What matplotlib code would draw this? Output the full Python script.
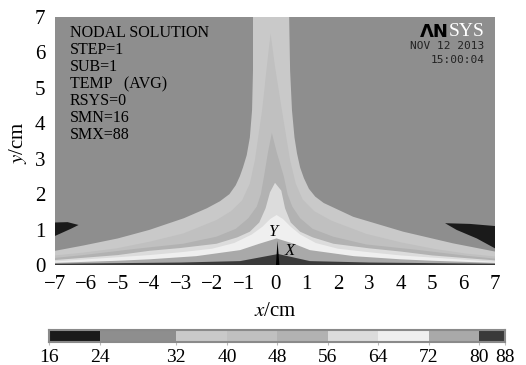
import numpy as np
import matplotlib
matplotlib.use('Agg')
import matplotlib.pyplot as plt

plt.rcParams['font.family'] = ['Liberation Serif', 'DejaVu Serif']
plt.rcParams['mathtext.fontset'] = 'stix'

# 等温线 (isotherms), path from left edge over the plume to right edge
iso32_x = [-7.0, -6.1, -5.0, -4.0, -2.9, -2.17, -1.75, -1.45, -1.25, -1.12, -1.02, -0.90, -0.80, -0.73,
           -0.70, -0.70,
           0.45, 0.48, 0.54, 0.62, 0.70, 0.80, 0.92, 1.08, 1.28, 1.55, 2.49, 4.08, 5.67, 7.0]
iso32_y = [0.40, 0.55, 0.75, 0.99, 1.32, 1.60, 1.80, 2.0, 2.25, 2.5, 2.75, 3.1, 3.6, 4.37,
           5.5, 7.0,
           7.0, 5.5, 4.37, 3.6, 3.15, 2.75, 2.45, 2.15, 1.93, 1.75, 1.36, 0.94, 0.61, 0.38]

iso40_x = [-7.0, -6.1, -5.04, -3.98, -2.92, -1.86, -1.40, -1.05, -0.80, -0.64, -0.41, -0.26, -0.14,
           0.0, 0.22, 0.48, 0.66, 0.88, 1.25, 1.8, 2.9, 4.0, 5.1, 6.1, 7.0]
iso40_y = [0.27, 0.35, 0.47, 0.66, 0.89, 1.27, 1.52, 1.82, 2.3, 2.96, 4.37, 5.6, 6.54,
           5.6, 4.37, 2.96, 2.3, 1.85, 1.52, 1.25, 0.88, 0.64, 0.45, 0.32, 0.24]

iso48_x = [-7.0, -6.1, -4.5, -2.92, -1.86, -1.25, -0.85, -0.58, -0.45, -0.35, -0.22, -0.10,
           0.05, 0.28, 0.40, 0.55, 0.80, 1.2, 1.85, 2.9, 4.5, 6.1, 7.0]
iso48_y = [0.20, 0.28, 0.45, 0.60, 0.80, 1.02, 1.32, 1.65, 2.0, 2.5, 3.2, 3.73,
           3.2, 2.5, 2.0, 1.65, 1.32, 1.02, 0.80, 0.58, 0.43, 0.26, 0.18]

iso56_x = [-7.0, -5.0, -4.0, -3.0, -1.86, -1.2, -0.8, -0.5, -0.30, -0.16, 0.0,
           0.2, 0.32, 0.5, 0.8, 1.2, 1.86, 3.0, 4.0, 5.0, 7.0]
iso56_y = [0.14, 0.28, 0.40, 0.48, 0.60, 0.78, 0.94, 1.2, 1.6, 2.05, 2.32,
           2.1, 1.6, 1.2, 0.94, 0.78, 0.60, 0.47, 0.38, 0.27, 0.13]

iso64_x = [-7.0, -5.5, -4.0, -3.0, -2.0, -1.3, -0.74, -0.4, -0.15, 0.05,
           0.25, 0.5, 0.8, 1.3, 2.0, 3.0, 4.0, 5.5, 7.0]
iso64_y = [0.10, 0.19, 0.28, 0.36, 0.46, 0.62, 0.86, 1.08, 1.3, 1.41,
           1.3, 1.08, 0.86, 0.62, 0.46, 0.36, 0.27, 0.18, 0.09]

iso72_x = [-7.0, -5.0, -4.0, -2.5, -1.11, -0.5, 0.05, 0.6, 1.11, 2.5, 4.0, 5.0, 7.0]
iso72_y = [0.06, 0.12, 0.16, 0.25, 0.42, 0.60, 0.75, 0.60, 0.42, 0.25, 0.16, 0.12, 0.06]

iso80_x = [-7.0, -3.0, -1.11, 0.1, 1.11, 3.0, 7.0]
iso80_y = [0.035, 0.07, 0.11, 0.31, 0.11, 0.07, 0.035]

# cold spots (16-24) at both side walls
cold_left_x = [-7.0, -6.6, -6.25, -6.5, -6.75, -7.0]
cold_left_y = [1.20, 1.21, 1.13, 1.02, 0.92, 0.82]
cold_right_x = [7.0, 6.2, 5.41, 5.78, 6.42, 7.0]
cold_right_y = [1.10, 1.16, 1.18, 0.99, 0.75, 0.47]

levels = [16, 24, 32, 40, 48, 56, 64, 72, 80, 88]
band_colors = ['#1a1a1a', '#8e8e8e', '#c9c9c9', '#c0c0c0', '#b2b2b2',
               '#dcdcdc', '#efefef', '#a9a9a9', '#3a3a3a']

info_lines = ['NODAL SOLUTION', 'STEP=1', 'SUB=1', 'TEMP   (AVG)', 'RSYS=0', 'SMN=16', 'SMX=88']

fig = plt.figure(figsize=(5.26, 3.65), dpi=100)
ax = fig.add_axes([55 / 526, 1 - 265 / 365, 440 / 526, 248 / 365])
ax.set_xlim(-7, 7)
ax.set_ylim(0, 7)
ax.set_facecolor(band_colors[1])

ax.fill(cold_left_x, cold_left_y, color=band_colors[0], lw=0)
ax.fill(cold_right_x, cold_right_y, color=band_colors[0], lw=0)

isos = [(iso32_x, iso32_y), (iso40_x, iso40_y), (iso48_x, iso48_y), (iso56_x, iso56_y),
        (iso64_x, iso64_y), (iso72_x, iso72_y), (iso80_x, iso80_y)]
x0, x1 = ax.get_xlim()
y0 = ax.get_ylim()[0]
for k, (xs, ys) in enumerate(isos):
    px = np.r_[xs, x1, x0]
    py = np.r_[ys, y0, y0]
    ax.fill(px, py, color=band_colors[k + 2], lw=0)

# 坐标三角 (triad)
ax.fill([0.03, 0.14, 0.08], [0, 0, 0.68], color='black', lw=0)
ax.text(-0.06, 0.94, 'Y', style='italic', fontsize=12, ha='center', va='center')
ax.text(0.47, 0.40, 'X', style='italic', fontsize=12, ha='center', va='center')

for i, s in enumerate(info_lines):
    ax.text(-6.52, 6.55 - i * 0.48, s, fontsize=11.5, ha='left', va='center')

ax.text(5.52, 6.58, 'ΛN', family='DejaVu Sans', weight='bold', fontsize=13,
        ha='right', va='center', color='black')
ax.text(6.66, 6.58, 'SYS', fontsize=14, ha='right', va='center', color='white')
ax.text(6.66, 6.17, 'NOV 12 2013', family='DejaVu Sans Mono', fontsize=8,
        ha='right', va='center', color='#222222')
ax.text(6.66, 5.78, '15:00:04', family='DejaVu Sans Mono', fontsize=8,
        ha='right', va='center', color='#222222')

ax.set_xticks(np.arange(-7, 8))
ax.set_yticks(np.arange(0, 8))
ax.tick_params(length=0, labelsize=15, pad=7)
for sp in ax.spines.values():
    sp.set_visible(False)

fig.text(275 / 526, 1 - 311 / 365, '$x$/cm', fontsize=15, ha='center', va='center')
fig.text(18 / 526, 1 - 143 / 365, '$y$/cm', fontsize=15, ha='center', va='center', rotation=90)

# 图例色条 (colorbar with uneven spacing like the original)
cbar_edges = [0, 51, 127, 178, 228, 279, 329, 380, 430, 456]
cax = fig.add_axes([49 / 526, 1 - 342 / 365, 456 / 526, 12 / 365])
cax.barh(0, np.diff(cbar_edges), left=cbar_edges[:-1], height=1, color=band_colors, lw=0)
cax.set_xlim(cbar_edges[0], cbar_edges[-1])
cax.set_ylim(-0.5, 0.5)
cax.set_yticks([])
cax.set_xticks(cbar_edges)
cax.set_xticklabels([str(v) for v in levels])
cax.tick_params(axis='x', length=2, color='#bbbbbb', labelsize=14, pad=3)
for sp in cax.spines.values():
    sp.set_color('#8a8a8a')
    sp.set_linewidth(1.5)

fig.savefig('out.png', dpi=100)
